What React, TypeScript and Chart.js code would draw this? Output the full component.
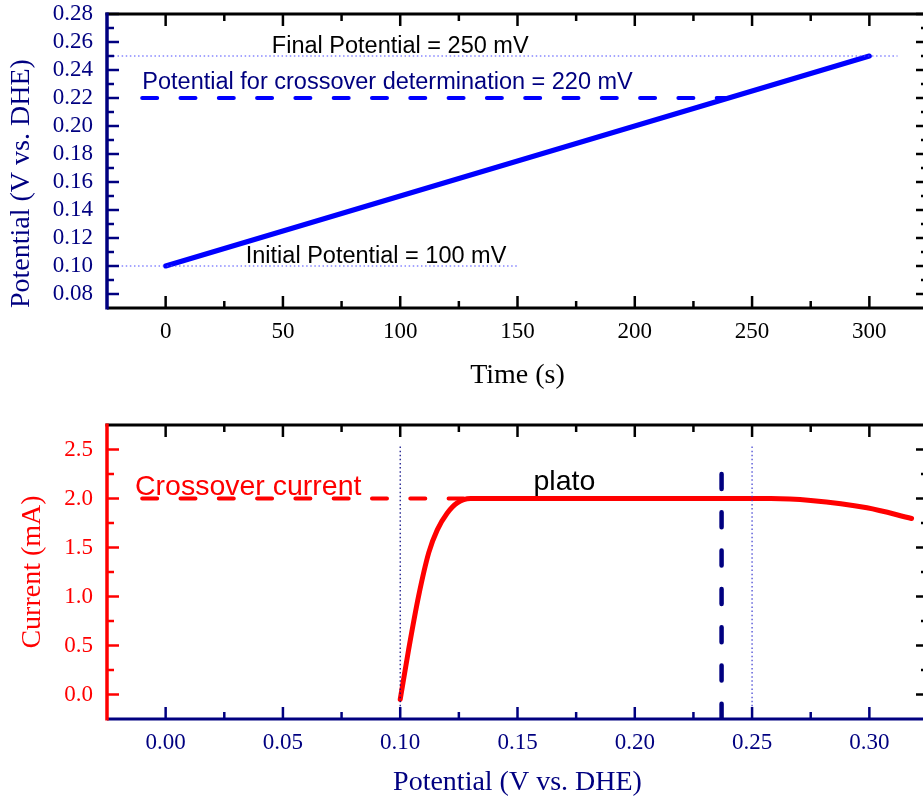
import React, { useEffect, useRef } from 'react';
import { Chart, registerables } from 'chart.js';

Chart.register(...registerables);

// ---------- Top chart: potential ramp vs time ----------
const rampTimeS = [0, 300];
const rampPotentialV = [0.10, 0.25];
const crossoverLineTimeS = [-10, 240];
const crossoverLinePotentialV = [0.22, 0.22];
const finalLineTimeS = [-24, 312];
const finalLinePotentialV = [0.25, 0.25];
const initialLineTimeS = [-24, 150];
const initialLinePotentialV = [0.10, 0.10];

const timeMajorTicks = [0, 50, 100, 150, 200, 250, 300];
const timeMinorTicks = [25, 75, 125, 175, 225, 275];
const potentialMajorTicks = [0.08, 0.10, 0.12, 0.14, 0.16, 0.18, 0.20, 0.22, 0.24, 0.26, 0.28];
const potentialMinorTicks = [0.09, 0.11, 0.13, 0.15, 0.17, 0.19, 0.21, 0.23, 0.25, 0.27];

// ---------- Bottom chart: current vs potential ----------
const sweepPotentialV = [0.100, 0.1036, 0.1078, 0.1122, 0.1158, 0.120, 0.1243, 0.130, 0.160, 0.200, 0.240, 0.258, 0.275, 0.299, 0.318];
const sweepCurrentMA = [-0.05, 0.46, 1.0, 1.45, 1.68, 1.85, 1.956, 2.0, 2.0, 2.0, 2.0, 2.0, 1.98, 1.905, 1.796];
const plateauLinePotentialV = [-0.01, 0.129];
const plateauLineCurrentMA = [2.0, 2.0];
const crossoverMarkPotentialV = [0.237, 0.237];
const crossoverMarkCurrentMA = [2.25, -0.25];
const initialMarkPotentialV = [0.10, 0.10];
const finalMarkPotentialV = [0.25, 0.25];
const markCurrentMA = [2.53, -0.25];

const sweepMajorTicks = [0, 0.05, 0.10, 0.15, 0.20, 0.25, 0.30];
const sweepMinorTicks = [0.025, 0.075, 0.125, 0.175, 0.225, 0.275];
const currentMajorTicks = [0, 0.5, 1.0, 1.5, 2.0, 2.5];
const currentMinorTicks = [0.25, 0.75, 1.25, 1.75, 2.25];

const NAVY = '#000080';
const BLUE = '#0000ff';
const RED = '#ff0000';
const SERIF = 'Liberation Serif';
const SANS = 'Liberation Sans';

const pts = (xs: number[], ys: number[]) => xs.map((x, i) => ({ x, y: ys[i] }));

const framePlugin = {
  id: 'frame',
  afterDraw(chart: any) {
    const o = chart.options.plugins.frame;
    const { ctx, chartArea } = chart;
    const { left, right, top, bottom } = chartArea;
    const xs = chart.scales.x;
    const ys = chart.scales.y;
    const seg = (x1: number, y1: number, x2: number, y2: number, color: string, w: number) => {
      ctx.beginPath();
      ctx.strokeStyle = color;
      ctx.lineWidth = w;
      ctx.moveTo(x1, y1);
      ctx.lineTo(x2, y2);
      ctx.stroke();
    };
    ctx.save();
    ctx.lineCap = 'butt';
    const drawX = (vals: number[], len: number) => {
      vals.forEach((v) => {
        const p = xs.getPixelForValue(v);
        seg(p, bottom, p, bottom - len, o.bottomColor, 2.5);
        seg(p, top, p, top + len, '#000', 2.5);
      });
    };
    const drawY = (vals: number[], len: number) => {
      vals.forEach((v) => {
        const p = ys.getPixelForValue(v);
        seg(left, p, left + len, p, o.leftColor, 2.5);
        seg(right, p, right - len, p, '#000', 2.5);
      });
    };
    drawX(o.xMajor, 12);
    drawX(o.xMinor, 7);
    drawY(o.yMajor, 12);
    drawY(o.yMinor, 7);
    seg(left - 1.5, top, right + 1.5, top, '#000', 3);
    seg(right, top, right, bottom, '#000', 3);
    seg(left, bottom, right + 1.5, bottom, o.bottomColor, 3);
    seg(left, top - 1.5, left, bottom + 1.5, o.leftColor, 3.5);
    ctx.restore();
  },
};

const notesPlugin = {
  id: 'notes',
  afterDatasetsDraw(chart: any) {
    const notes = chart.options.plugins.notes.items;
    const { ctx } = chart;
    const xs = chart.scales.x;
    const ys = chart.scales.y;
    ctx.save();
    notes.forEach((n: any) => {
      ctx.font = n.font;
      ctx.fillStyle = n.color;
      ctx.textAlign = 'center';
      ctx.textBaseline = 'alphabetic';
      ctx.fillText(n.text, xs.getPixelForValue(n.x), ys.getPixelForValue(n.y));
    });
    ctx.restore();
  },
};

const tickFont = { family: SERIF, size: 23 };
const titleFont = { family: SERIF, size: 28 };

const fixWidth = (w: number) => (s: any) => {
  s.width = w;
  s.paddingTop = 0; s.paddingBottom = 0; s.paddingLeft = 0; s.paddingRight = 0;
};
const fixHeight = (h: number) => (s: any) => {
  s.height = h;
  s.paddingTop = 0; s.paddingBottom = 0; s.paddingLeft = 0; s.paddingRight = 0;
};

function topConfig(): any {
  return {
    type: 'scatter',
    data: {
      datasets: [
        {
          data: pts(finalLineTimeS, finalLinePotentialV),
          showLine: true, borderColor: '#4a4aff', borderWidth: 1.2, borderDash: [1.5, 2.6], pointRadius: 0,
        },
        {
          data: pts(initialLineTimeS, initialLinePotentialV),
          showLine: true, borderColor: '#4a4aff', borderWidth: 1.2, borderDash: [1.5, 2.6], pointRadius: 0,
        },
        {
          data: pts(crossoverLineTimeS, crossoverLinePotentialV),
          showLine: true, borderColor: BLUE, borderWidth: 4, borderDash: [15, 23.3], borderCapStyle: 'round', pointRadius: 0,
        },
        {
          data: pts(rampTimeS, rampPotentialV),
          showLine: true, borderColor: BLUE, borderWidth: 5, borderCapStyle: 'round', pointRadius: 0,
        },
      ],
    },
    options: {
      animation: false,
      responsive: false,
      layout: { padding: { left: 0, top: 14, right: 12, bottom: 0 } },
      plugins: {
        legend: { display: false },
        tooltip: { enabled: false },
        frame: { leftColor: NAVY, bottomColor: '#000', xMajor: timeMajorTicks, xMinor: timeMinorTicks, yMajor: potentialMajorTicks, yMinor: potentialMinorTicks },
        notes: {
          items: [
            { text: 'Final Potential = 250 mV', x: 100, y: 0.2524, color: '#000', font: `23.5px ${SANS}` },
            { text: 'Potential for crossover determination = 220 mV', x: 94.6, y: 0.2264, color: NAVY, font: `23.5px ${SANS}` },
            { text: 'Initial Potential = 100 mV', x: 89.7, y: 0.1019, color: '#000', font: `23.5px ${SANS}` },
          ],
        },
      },
      scales: {
        x: {
          type: 'linear', min: -25, max: 325,
          grid: { display: false, drawTicks: false }, border: { display: false },
          afterBuildTicks: (s: any) => { s.ticks = timeMajorTicks.map((v) => ({ value: v })); },
          afterFit: fixHeight(92),
          ticks: { font: tickFont, color: '#000', padding: 10, maxRotation: 0, autoSkip: false, callback: (v: number) => String(Math.round(v)) },
          title: { display: true, text: 'Time (s)', font: titleFont, color: '#000', padding: { top: 0, bottom: 8 } },
        },
        y: {
          type: 'linear', min: 0.07, max: 0.28,
          grid: { display: false, drawTicks: false }, border: { display: false },
          afterBuildTicks: (s: any) => { s.ticks = potentialMajorTicks.map((v) => ({ value: v })); },
          afterFit: fixWidth(107),
          ticks: { font: tickFont, color: NAVY, padding: 14, autoSkip: false, callback: (v: number) => Number(v).toFixed(2) },
          title: { display: true, text: 'Potential (V vs. DHE)', font: titleFont, color: NAVY, align: 'start', padding: { top: 5, bottom: 0 } },
        },
      },
    },
    plugins: [framePlugin, notesPlugin],
  };
}

function bottomConfig(): any {
  return {
    type: 'scatter',
    data: {
      datasets: [
        {
          data: pts(initialMarkPotentialV, markCurrentMA),
          showLine: true, borderColor: NAVY, borderWidth: 1.2, borderDash: [1.5, 2.6], pointRadius: 0,
        },
        {
          data: pts(finalMarkPotentialV, markCurrentMA),
          showLine: true, borderColor: '#3a3ad0', borderWidth: 1.2, borderDash: [1.5, 2.6], pointRadius: 0,
        },
        {
          data: pts(plateauLinePotentialV, plateauLineCurrentMA),
          showLine: true, borderColor: RED, borderWidth: 4, borderDash: [15, 23.3], borderCapStyle: 'round', pointRadius: 0,
        },
        {
          data: pts(sweepPotentialV, sweepCurrentMA),
          showLine: true, borderColor: RED, borderWidth: 5, borderCapStyle: 'round', cubicInterpolationMode: 'monotone', pointRadius: 0,
        },
        {
          data: pts(crossoverMarkPotentialV, crossoverMarkCurrentMA),
          showLine: true, borderColor: NAVY, borderWidth: 4.5, borderDash: [15, 23.3], borderCapStyle: 'round', pointRadius: 0,
        },
      ],
    },
    options: {
      animation: false,
      responsive: false,
      layout: { padding: { left: 0, top: 25, right: 12, bottom: 0 } },
      plugins: {
        legend: { display: false },
        tooltip: { enabled: false },
        frame: { leftColor: RED, bottomColor: NAVY, xMajor: sweepMajorTicks, xMinor: sweepMinorTicks, yMajor: currentMajorTicks, yMinor: currentMinorTicks },
        notes: {
          items: [
            { text: 'Crossover current', x: 0.0352, y: 2.04, color: RED, font: `28.5px ${SANS}` },
            { text: 'plato', x: 0.170, y: 2.09, color: '#000', font: `28.5px ${SANS}` },
          ],
        },
      },
      scales: {
        x: {
          type: 'linear', min: -0.025, max: 0.325,
          grid: { display: false, drawTicks: false }, border: { display: false },
          afterBuildTicks: (s: any) => { s.ticks = sweepMajorTicks.map((v) => ({ value: v })); },
          afterFit: fixHeight(86),
          ticks: { font: tickFont, color: NAVY, padding: 10, maxRotation: 0, autoSkip: false, callback: (v: number) => Number(v).toFixed(2) },
          title: { display: true, text: 'Potential (V vs. DHE)', font: titleFont, color: NAVY, padding: { top: 0, bottom: 6 } },
        },
        y: {
          type: 'linear', min: -0.25, max: 2.75,
          grid: { display: false, drawTicks: false }, border: { display: false },
          afterBuildTicks: (s: any) => { s.ticks = currentMajorTicks.map((v) => ({ value: v })); },
          afterFit: fixWidth(107),
          ticks: { font: tickFont, color: RED, padding: 14, autoSkip: false, callback: (v: number) => Number(v).toFixed(1) },
          title: { display: true, text: 'Current (mA)', font: titleFont, color: RED, padding: { top: 16, bottom: 0 } },
        },
      },
    },
    plugins: [framePlugin, notesPlugin],
  };
}

export default function App() {
  const topRef = useRef<HTMLCanvasElement | null>(null);
  const bottomRef = useRef<HTMLCanvasElement | null>(null);

  useEffect(() => {
    const c1 = new Chart(topRef.current as HTMLCanvasElement, topConfig());
    const c2 = new Chart(bottomRef.current as HTMLCanvasElement, bottomConfig());
    return () => {
      c1.destroy();
      c2.destroy();
    };
  }, []);

  return (
    <div style={{ position: 'absolute', left: 0, top: 0, width: 923, height: 805, overflow: 'hidden', background: '#fff' }}>
      <canvas ref={topRef} width={940} height={400} style={{ position: 'absolute', left: 0, top: 0, width: 940, height: 400 }} />
      <canvas ref={bottomRef} width={940} height={405} style={{ position: 'absolute', left: 0, top: 400, width: 940, height: 405 }} />
    </div>
  );
}
